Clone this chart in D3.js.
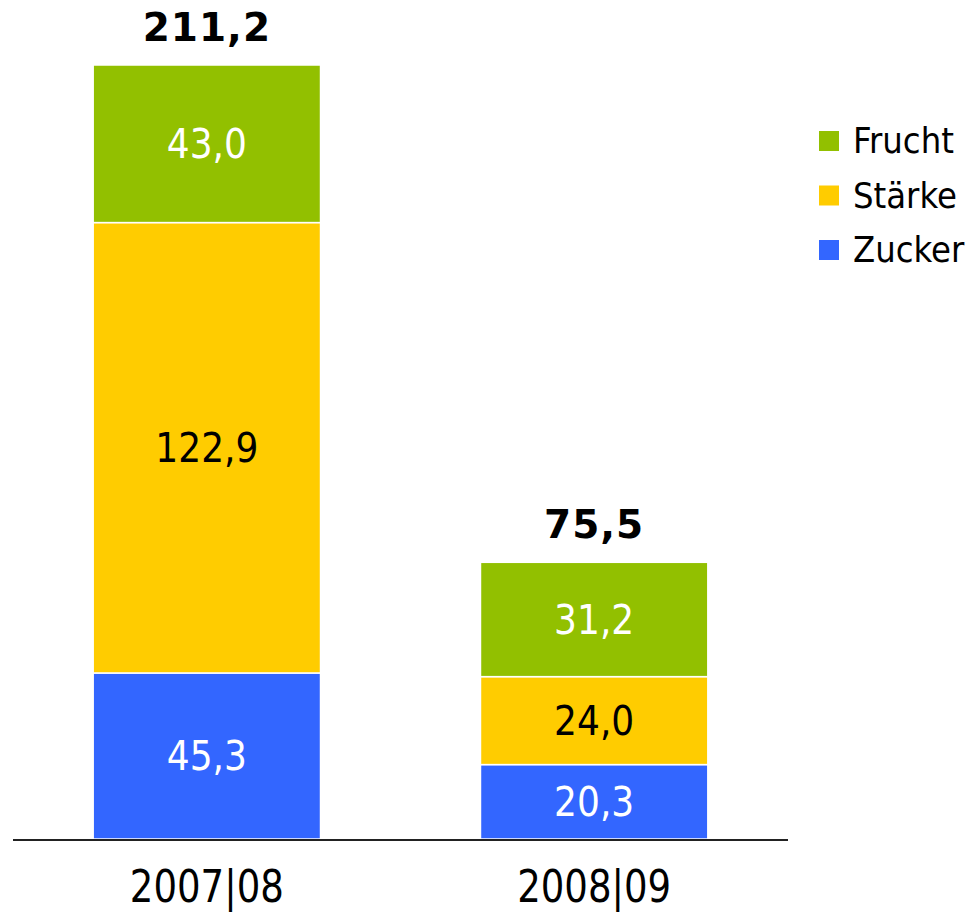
<!DOCTYPE html>
<html>
<head>
<meta charset="utf-8">
<script src="https://cdn.jsdelivr.net/npm/d3@7"></script>
<style>
  body { margin: 0; background: #fff; }
  svg { display: block; }
  text { font-family: "DejaVu Sans Condensed", "DejaVu Sans", sans-serif; }
</style>
</head>
<body>
<div id="chart"></div>
<script>
// --- datos ---
const categories = ["2007|08", "2008|09"];
const seriesNames = ["Zucker", "Stärke", "Frucht"];
const zucker = [45.3, 20.3];
const staerke = [122.9, 24.0];
const frucht = [43.0, 31.2];
const totals = [211.2, 75.5];
const colors = { "Zucker": "#3366ff", "Stärke": "#ffcc00", "Frucht": "#92c000" };
const labelColors = { "Zucker": "#fff", "Stärke": "#000", "Frucht": "#fff" };

const width = 972, height = 912;
const fmt = v => d3.format(".1f")(v).replace(".", ",");

const svg = d3.select("#chart").append("svg")
  .attr("width", width).attr("height", height);

const rows = categories.map((c, i) => ({
  cat: c, "Zucker": zucker[i], "Stärke": staerke[i], "Frucht": frucht[i], total: totals[i]
}));

const x = d3.scaleBand().domain(categories).range([13, 788])
  .paddingInner(0.413).paddingOuter(0.207);
const y = d3.scaleLinear().domain([0, 211.2]).range([839, 65]);

const stack = d3.stack().keys(seriesNames)(rows);

const layer = svg.selectAll("g.layer").data(stack).enter().append("g")
  .attr("class", "layer");

layer.selectAll("rect").data(d => d.map(p => ({ key: d.key, p }))).enter().append("rect")
  .attr("x", d => x(d.p.data.cat))
  .attr("width", x.bandwidth())
  .attr("y", d => y(d.p[1]))
  .attr("height", d => y(d.p[0]) - y(d.p[1]))
  .attr("fill", d => colors[d.key])
  .attr("stroke", "#fff")
  .attr("stroke-width", 1.5);

layer.selectAll("text").data(d => d.map(p => ({ key: d.key, p }))).enter().append("text")
  .attr("x", d => x(d.p.data.cat) + x.bandwidth() / 2)
  .attr("y", d => (y(d.p[0]) + y(d.p[1])) / 2)
  .attr("dy", "0.36em")
  .attr("text-anchor", "middle")
  .attr("font-size", 40)
  .attr("fill", d => labelColors[d.key])
  .text(d => fmt(d.p[1] - d.p[0]));

// totales
svg.selectAll("text.total").data(rows).enter().append("text")
  .attr("class", "total")
  .attr("x", d => x(d.cat) + x.bandwidth() / 2)
  .attr("y", d => y(d.total) - 24)
  .attr("text-anchor", "middle")
  .attr("font-size", 39)
  .attr("font-weight", "bold")
  .style("font-family", "'DejaVu Sans', sans-serif")
  .style("letter-spacing", "1px")
  .attr("fill", "#000")
  .text(d => fmt(d.total));

// eje
svg.append("line")
  .attr("x1", x.range()[0]).attr("x2", x.range()[1])
  .attr("y1", y(0) + 1).attr("y2", y(0) + 1)
  .attr("stroke", "#222").attr("stroke-width", 2);

svg.selectAll("text.cat").data(categories).enter().append("text")
  .attr("class", "cat")
  .attr("x", d => x(d) + x.bandwidth() / 2)
  .attr("y", 902)
  .attr("text-anchor", "middle")
  .attr("font-size", 44)
  .attr("textLength", 154)
  .attr("lengthAdjust", "spacingAndGlyphs")
  .attr("fill", "#000")
  .text(d => d);

// leyenda
const legendItems = seriesNames.slice().reverse();
const legend = svg.selectAll("g.leg").data(legendItems).enter().append("g")
  .attr("class", "leg")
  .attr("transform", (d, i) => `translate(819, ${131 + i * 54.5})`);
legend.append("rect").attr("width", 20).attr("height", 20)
  .attr("fill", d => colors[d]);
legend.append("text").attr("x", 34).attr("y", 22)
  .attr("font-size", 36).attr("fill", "#000")
  .text(d => d);
</script>
</body>
</html>
